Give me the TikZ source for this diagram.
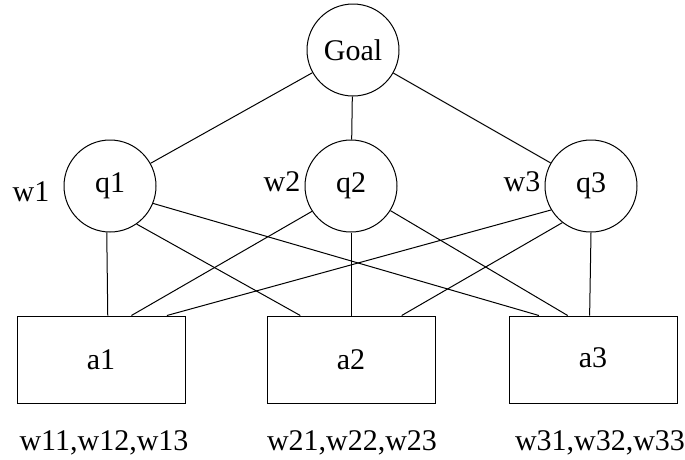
\documentclass[tikz,border=0pt]{standalone}
\usepackage{fontspec}
\setmainfont{Liberation Serif}
\usetikzlibrary{calc}
\begin{document}
\begin{tikzpicture}[x=1pt,y=-1pt,
  txt/.style={font=\fontsize{30}{35}\selectfont, inner sep=0pt},
  circ/.style={txt, draw, circle, minimum size=92pt, line width=1pt},
  box/.style={txt, draw, rectangle, minimum width=168pt, minimum height=87pt, line width=1pt},
  conn/.style={line width=1pt}]
\useasboundingbox (0,0) rectangle (685,459);
\node[circ] (goal) at (353,50) {Goal};
\node[circ] (q1) at (110,186) {q1};
\node[circ] (q2) at (351,186) {q2};
\node[circ] (q3) at (591,186) {q3};
\node[box] (a1) at (101,359.5) {a1};
\node[box] (a2) at (351,359.5) {a2};
\node[box] (a3) at (593,359.5) {\raisebox{4pt}{a3}};
\node[txt] (w1) at (31,192) {w1};
\node[txt] (w2) at (282,182) {w2};
\node[txt] (w3) at (522,182) {w3};
\node[txt] (l1) at (104,443) {w11,w12,w13};
\node[txt] (l2) at (352,443) {w21,w22,w23};
\node[txt] (l3) at (600,443) {w31,w32,w33};
% top points on boxes
\coordinate (a1p1) at ($(a1.north west)!0.54!(a1.north east)$);
\coordinate (a1p2) at ($(a1.north west)!0.68!(a1.north east)$);
\coordinate (a1p3) at ($(a1.north west)!0.89!(a1.north east)$);
\coordinate (a2p1) at ($(a2.north west)!0.20!(a2.north east)$);
\coordinate (a2p2) at ($(a2.north west)!0.50!(a2.north east)$);
\coordinate (a2p3) at ($(a2.north west)!0.80!(a2.north east)$);
\coordinate (a3p1) at ($(a3.north west)!0.18!(a3.north east)$);
\coordinate (a3p2) at ($(a3.north west)!0.35!(a3.north east)$);
\coordinate (a3p3) at ($(a3.north west)!0.48!(a3.north east)$);
% goal to criteria
\draw[conn] (goal) -- (q1);
\draw[conn] (goal) -- (q2);
\draw[conn] (goal) -- (q3);
% criteria to alternatives
\draw[conn] (q1.-94) -- (a1p1);
\draw[conn] (q1.-55) -- (a2p1);
\draw[conn] (q1.-22) -- (a3p1);
\draw[conn] (q2.-147) -- (a1p2);
\draw[conn] (q2.south) -- (a2p2);
\draw[conn] (q2.-32) -- (a3p2);
\draw[conn] (q3.-149) -- (a1p3);
\draw[conn] (q3.-128) -- (a2p3);
\draw[conn] (q3.south) -- (a3p3);
\end{tikzpicture}
\end{document}
